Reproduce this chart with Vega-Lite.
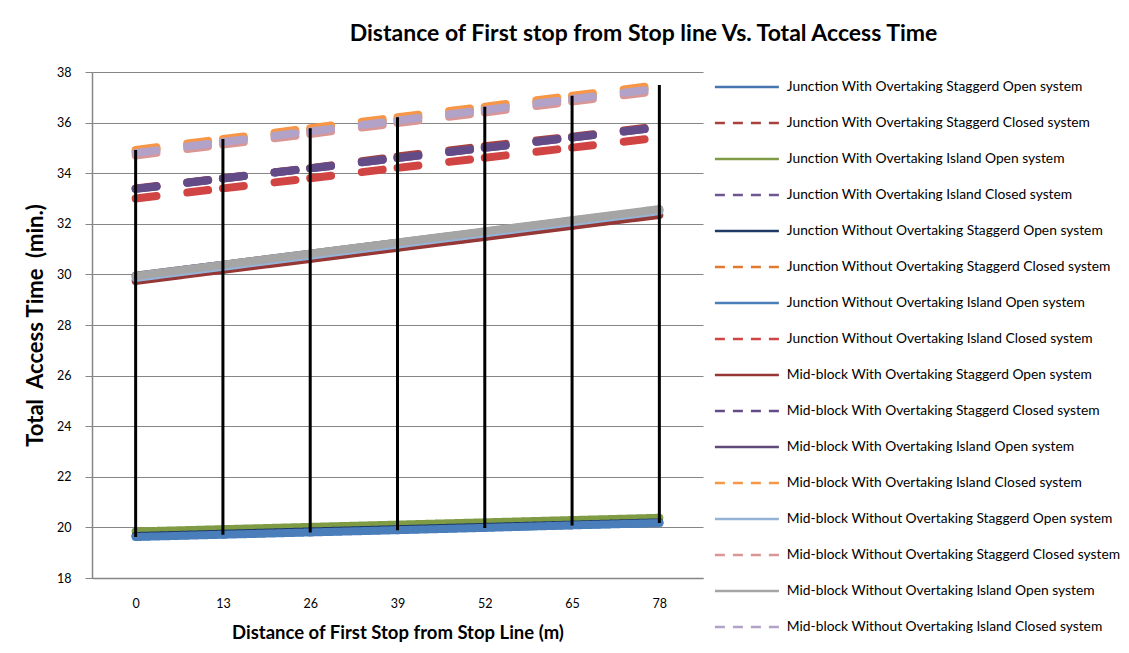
{
  "$schema": "https://vega.github.io/schema/vega-lite/v6.json",
  "autosize": {"type": "none"},
  "width": 611,
  "height": 506,
  "padding": {"left": 92, "top": 72, "right": 426, "bottom": 75},
  "background": "white",
  "config": {
    "view": {"stroke": null},
    "font": "Lato",
    "axis": {"labelFont": "Lato", "titleFont": "Lato", "labelColor": "black", "titleColor": "black", "domainColor": "#868686", "tickColor": "#868686", "gridColor": "#868686"},
    "legend": {"labelFont": "Lato"}
  },
  "title": {
    "text": "Distance of First stop from Stop line Vs. Total Access Time",
    "font": "Lato", "fontSize": 23, "fontWeight": "bold", "color": "black",
    "anchor": "middle", "frame": "group", "dx": 246, "offset": 20
  },
  "data": {"values": [
    {"n":1,"series":"Junction With Overtaking Staggerd Open system","x":0,"value":19.64},
    {"n":1,"series":"Junction With Overtaking Staggerd Open system","x":13,"value":19.73},
    {"n":1,"series":"Junction With Overtaking Staggerd Open system","x":26,"value":19.82},
    {"n":1,"series":"Junction With Overtaking Staggerd Open system","x":39,"value":19.91},
    {"n":1,"series":"Junction With Overtaking Staggerd Open system","x":52,"value":20.00},
    {"n":1,"series":"Junction With Overtaking Staggerd Open system","x":65,"value":20.09},
    {"n":1,"series":"Junction With Overtaking Staggerd Open system","x":78,"value":20.18},
    {"n":2,"series":"Junction With Overtaking Staggerd Closed system","x":0,"value":33.40},
    {"n":2,"series":"Junction With Overtaking Staggerd Closed system","x":13,"value":33.80},
    {"n":2,"series":"Junction With Overtaking Staggerd Closed system","x":26,"value":34.20},
    {"n":2,"series":"Junction With Overtaking Staggerd Closed system","x":39,"value":34.66},
    {"n":2,"series":"Junction With Overtaking Staggerd Closed system","x":52,"value":35.07},
    {"n":2,"series":"Junction With Overtaking Staggerd Closed system","x":65,"value":35.44},
    {"n":2,"series":"Junction With Overtaking Staggerd Closed system","x":78,"value":35.86},
    {"n":3,"series":"Junction With Overtaking Island Open system","x":0,"value":19.84},
    {"n":3,"series":"Junction With Overtaking Island Open system","x":13,"value":19.93},
    {"n":3,"series":"Junction With Overtaking Island Open system","x":26,"value":20.02},
    {"n":3,"series":"Junction With Overtaking Island Open system","x":39,"value":20.11},
    {"n":3,"series":"Junction With Overtaking Island Open system","x":52,"value":20.20},
    {"n":3,"series":"Junction With Overtaking Island Open system","x":65,"value":20.29},
    {"n":3,"series":"Junction With Overtaking Island Open system","x":78,"value":20.38},
    {"n":4,"series":"Junction With Overtaking Island Closed system","x":0,"value":33.38},
    {"n":4,"series":"Junction With Overtaking Island Closed system","x":13,"value":33.79},
    {"n":4,"series":"Junction With Overtaking Island Closed system","x":26,"value":34.19},
    {"n":4,"series":"Junction With Overtaking Island Closed system","x":39,"value":34.60},
    {"n":4,"series":"Junction With Overtaking Island Closed system","x":52,"value":35.00},
    {"n":4,"series":"Junction With Overtaking Island Closed system","x":65,"value":35.41},
    {"n":4,"series":"Junction With Overtaking Island Closed system","x":78,"value":35.81},
    {"n":5,"series":"Junction Without Overtaking Staggerd Open system","x":0,"value":19.66},
    {"n":5,"series":"Junction Without Overtaking Staggerd Open system","x":13,"value":19.75},
    {"n":5,"series":"Junction Without Overtaking Staggerd Open system","x":26,"value":19.84},
    {"n":5,"series":"Junction Without Overtaking Staggerd Open system","x":39,"value":19.93},
    {"n":5,"series":"Junction Without Overtaking Staggerd Open system","x":52,"value":20.02},
    {"n":5,"series":"Junction Without Overtaking Staggerd Open system","x":65,"value":20.11},
    {"n":5,"series":"Junction Without Overtaking Staggerd Open system","x":78,"value":20.20},
    {"n":6,"series":"Junction Without Overtaking Staggerd Closed system","x":0,"value":34.85},
    {"n":6,"series":"Junction Without Overtaking Staggerd Closed system","x":13,"value":35.27},
    {"n":6,"series":"Junction Without Overtaking Staggerd Closed system","x":26,"value":35.70},
    {"n":6,"series":"Junction Without Overtaking Staggerd Closed system","x":39,"value":36.12},
    {"n":6,"series":"Junction Without Overtaking Staggerd Closed system","x":52,"value":36.55},
    {"n":6,"series":"Junction Without Overtaking Staggerd Closed system","x":65,"value":36.97},
    {"n":6,"series":"Junction Without Overtaking Staggerd Closed system","x":78,"value":37.40},
    {"n":7,"series":"Junction Without Overtaking Island Open system","x":0,"value":19.62},
    {"n":7,"series":"Junction Without Overtaking Island Open system","x":13,"value":19.71},
    {"n":7,"series":"Junction Without Overtaking Island Open system","x":26,"value":19.80},
    {"n":7,"series":"Junction Without Overtaking Island Open system","x":39,"value":19.89},
    {"n":7,"series":"Junction Without Overtaking Island Open system","x":52,"value":19.98},
    {"n":7,"series":"Junction Without Overtaking Island Open system","x":65,"value":20.08},
    {"n":7,"series":"Junction Without Overtaking Island Open system","x":78,"value":20.17},
    {"n":8,"series":"Junction Without Overtaking Island Closed system","x":0,"value":33.00},
    {"n":8,"series":"Junction Without Overtaking Island Closed system","x":13,"value":33.40},
    {"n":8,"series":"Junction Without Overtaking Island Closed system","x":26,"value":33.80},
    {"n":8,"series":"Junction Without Overtaking Island Closed system","x":39,"value":34.21},
    {"n":8,"series":"Junction Without Overtaking Island Closed system","x":52,"value":34.61},
    {"n":8,"series":"Junction Without Overtaking Island Closed system","x":65,"value":35.01},
    {"n":8,"series":"Junction Without Overtaking Island Closed system","x":78,"value":35.41},
    {"n":9,"series":"Mid-block With Overtaking Staggerd Open system","x":0,"value":29.74},
    {"n":9,"series":"Mid-block With Overtaking Staggerd Open system","x":13,"value":30.18},
    {"n":9,"series":"Mid-block With Overtaking Staggerd Open system","x":26,"value":30.61},
    {"n":9,"series":"Mid-block With Overtaking Staggerd Open system","x":39,"value":31.05},
    {"n":9,"series":"Mid-block With Overtaking Staggerd Open system","x":52,"value":31.48},
    {"n":9,"series":"Mid-block With Overtaking Staggerd Open system","x":65,"value":31.92},
    {"n":9,"series":"Mid-block With Overtaking Staggerd Open system","x":78,"value":32.35},
    {"n":10,"series":"Mid-block With Overtaking Staggerd Closed system","x":0,"value":33.38},
    {"n":10,"series":"Mid-block With Overtaking Staggerd Closed system","x":13,"value":33.79},
    {"n":10,"series":"Mid-block With Overtaking Staggerd Closed system","x":26,"value":34.19},
    {"n":10,"series":"Mid-block With Overtaking Staggerd Closed system","x":39,"value":34.60},
    {"n":10,"series":"Mid-block With Overtaking Staggerd Closed system","x":52,"value":35.00},
    {"n":10,"series":"Mid-block With Overtaking Staggerd Closed system","x":65,"value":35.41},
    {"n":10,"series":"Mid-block With Overtaking Staggerd Closed system","x":78,"value":35.81},
    {"n":11,"series":"Mid-block With Overtaking Island Open system","x":0,"value":29.95},
    {"n":11,"series":"Mid-block With Overtaking Island Open system","x":13,"value":30.38},
    {"n":11,"series":"Mid-block With Overtaking Island Open system","x":26,"value":30.82},
    {"n":11,"series":"Mid-block With Overtaking Island Open system","x":39,"value":31.25},
    {"n":11,"series":"Mid-block With Overtaking Island Open system","x":52,"value":31.68},
    {"n":11,"series":"Mid-block With Overtaking Island Open system","x":65,"value":32.12},
    {"n":11,"series":"Mid-block With Overtaking Island Open system","x":78,"value":32.55},
    {"n":12,"series":"Mid-block With Overtaking Island Closed system","x":0,"value":34.92},
    {"n":12,"series":"Mid-block With Overtaking Island Closed system","x":13,"value":35.35},
    {"n":12,"series":"Mid-block With Overtaking Island Closed system","x":26,"value":35.78},
    {"n":12,"series":"Mid-block With Overtaking Island Closed system","x":39,"value":36.21},
    {"n":12,"series":"Mid-block With Overtaking Island Closed system","x":52,"value":36.63},
    {"n":12,"series":"Mid-block With Overtaking Island Closed system","x":65,"value":37.06},
    {"n":12,"series":"Mid-block With Overtaking Island Closed system","x":78,"value":37.49},
    {"n":13,"series":"Mid-block Without Overtaking Staggerd Open system","x":0,"value":29.86},
    {"n":13,"series":"Mid-block Without Overtaking Staggerd Open system","x":13,"value":30.30},
    {"n":13,"series":"Mid-block Without Overtaking Staggerd Open system","x":26,"value":30.74},
    {"n":13,"series":"Mid-block Without Overtaking Staggerd Open system","x":39,"value":31.18},
    {"n":13,"series":"Mid-block Without Overtaking Staggerd Open system","x":52,"value":31.62},
    {"n":13,"series":"Mid-block Without Overtaking Staggerd Open system","x":65,"value":32.06},
    {"n":13,"series":"Mid-block Without Overtaking Staggerd Open system","x":78,"value":32.50},
    {"n":14,"series":"Mid-block Without Overtaking Staggerd Closed system","x":0,"value":34.70},
    {"n":14,"series":"Mid-block Without Overtaking Staggerd Closed system","x":13,"value":35.13},
    {"n":14,"series":"Mid-block Without Overtaking Staggerd Closed system","x":26,"value":35.55},
    {"n":14,"series":"Mid-block Without Overtaking Staggerd Closed system","x":39,"value":35.98},
    {"n":14,"series":"Mid-block Without Overtaking Staggerd Closed system","x":52,"value":36.40},
    {"n":14,"series":"Mid-block Without Overtaking Staggerd Closed system","x":65,"value":36.83},
    {"n":14,"series":"Mid-block Without Overtaking Staggerd Closed system","x":78,"value":37.25},
    {"n":15,"series":"Mid-block Without Overtaking Island Open system","x":0,"value":29.94},
    {"n":15,"series":"Mid-block Without Overtaking Island Open system","x":13,"value":30.38},
    {"n":15,"series":"Mid-block Without Overtaking Island Open system","x":26,"value":30.82},
    {"n":15,"series":"Mid-block Without Overtaking Island Open system","x":39,"value":31.26},
    {"n":15,"series":"Mid-block Without Overtaking Island Open system","x":52,"value":31.70},
    {"n":15,"series":"Mid-block Without Overtaking Island Open system","x":65,"value":32.14},
    {"n":15,"series":"Mid-block Without Overtaking Island Open system","x":78,"value":32.58},
    {"n":16,"series":"Mid-block Without Overtaking Island Closed system","x":0,"value":34.80},
    {"n":16,"series":"Mid-block Without Overtaking Island Closed system","x":13,"value":35.23},
    {"n":16,"series":"Mid-block Without Overtaking Island Closed system","x":26,"value":35.65},
    {"n":16,"series":"Mid-block Without Overtaking Island Closed system","x":39,"value":36.08},
    {"n":16,"series":"Mid-block Without Overtaking Island Closed system","x":52,"value":36.50},
    {"n":16,"series":"Mid-block Without Overtaking Island Closed system","x":65,"value":36.93},
    {"n":16,"series":"Mid-block Without Overtaking Island Closed system","x":78,"value":37.35}
  ]},
  "layer": [
    {
      "transform": [
        {"window": [{"op": "lead", "field": "x", "as": "x_next"}, {"op": "lead", "field": "value", "as": "v_next"}], "groupby": ["series"], "sort": [{"field": "x", "order": "ascending"}]},
        {"filter": "datum.x_next != null"}
      ],
      "mark": {"type": "rule", "strokeCap": "round"},
      "encoding": {
        "x": {"field": "x", "type": "ordinal", "scale": {"type": "point", "padding": 0.5, "domain": [0, 13, 26, 39, 52, 65, 78]},
          "axis": {"title": "Distance of First Stop from Stop Line (m)", "titleFontSize": 18.5, "titleFontWeight": "bold", "titlePadding": 14, "labelAngle": 0, "labelFontSize": 12.5, "labelPadding": 19, "ticks": false, "grid": false, "domainColor": "#868686", "domainWidth": 1.5}},
        "x2": {"field": "x_next"},
        "y": {"field": "value", "type": "quantitative", "scale": {"domain": [18, 38], "nice": false, "zero": false},
          "axis": {"title": "Total\u00a0 Access Time\u00a0 (min.)", "titleFontSize": 22, "titleFontWeight": "bold", "titlePadding": 9, "values": [18, 20, 22, 24, 26, 28, 30, 32, 34, 36, 38], "labelFontSize": 12.5, "tickSize": 7, "labelPadding": 14, "gridWidth": 1.2, "domainWidth": 1.5}},
        "y2": {"field": "v_next"},
        "order": {"field": "n", "type": "quantitative"},
        "color": {"field": "series", "type": "nominal",
          "scale": {
            "domain": [
              "Junction With Overtaking Staggerd Open system",
              "Junction With Overtaking Staggerd Closed system",
              "Junction With Overtaking Island Open system",
              "Junction With Overtaking Island Closed system",
              "Junction Without Overtaking Staggerd Open system",
              "Junction Without Overtaking Staggerd Closed system",
              "Junction Without Overtaking Island Open system",
              "Junction Without Overtaking Island Closed system",
              "Mid-block With Overtaking Staggerd Open system",
              "Mid-block With Overtaking Staggerd Closed system",
              "Mid-block With Overtaking Island Open system",
              "Mid-block With Overtaking Island Closed system",
              "Mid-block Without Overtaking Staggerd Open system",
              "Mid-block Without Overtaking Staggerd Closed system",
              "Mid-block Without Overtaking Island Open system",
              "Mid-block Without Overtaking Island Closed system"
            ],
            "range": ["#4675B0", "#A8403D", "#7F9C45", "#6E5690", "#1F3A64", "#E07A2E", "#4A7EBB", "#D04543", "#953735", "#634B87", "#5F497A", "#F79646", "#95B3D7", "#D99694", "#A5A5A5", "#B3A2C7"]
          },
          "legend": {
            "title": null, "orient": "none", "legendX": 648, "legendY": 8, "direction": "vertical", "padding": 0,
            "symbolType": "M-6.4,0H6.4", "symbolSize": 100, "symbolStrokeWidth": 2.5, "labelFontSize": 13.8, "labelColor": "black", "labelLimit": 0, "labelOffset": 33, "rowPadding": 21,
            "encode": {"symbols": {"update": {"strokeDash": {"signal": "test(/Closed/, datum.value) ? [10, 8] : [1, 0]"}}}}
          }
        },
        "strokeDash": {"field": "n", "type": "ordinal", "legend": null,
          "scale": {
            "domain": [1, 2, 3, 4, 5, 6, 7, 8, 9, 10, 11, 12, 13, 14, 15, 16],
            "range": [[1, 0], [21, 31], [1, 0], [21, 31], [1, 0], [21, 31], [1, 0], [21, 31], [1, 0], [21, 31], [1, 0], [21, 31], [1, 0], [21, 31], [1, 0], [21, 31]]
          }
        },
        "strokeWidth": {"field": "n", "type": "ordinal", "legend": null,
          "scale": {
            "domain": [1, 2, 3, 4, 5, 6, 7, 8, 9, 10, 11, 12, 13, 14, 15, 16],
            "range": [8, 8, 8, 8, 4, 8, 8, 8, 3, 8, 6, 8, 6, 8, 8, 8]
          }
        }
      }
    },
    {
      "mark": {"type": "rule", "color": "black", "strokeWidth": 3},
      "encoding": {
        "x": {"field": "x", "type": "ordinal"},
        "y": {"aggregate": "min", "field": "value", "type": "quantitative"},
        "y2": {"aggregate": "max", "field": "value"}
      }
    }
  ]
}
